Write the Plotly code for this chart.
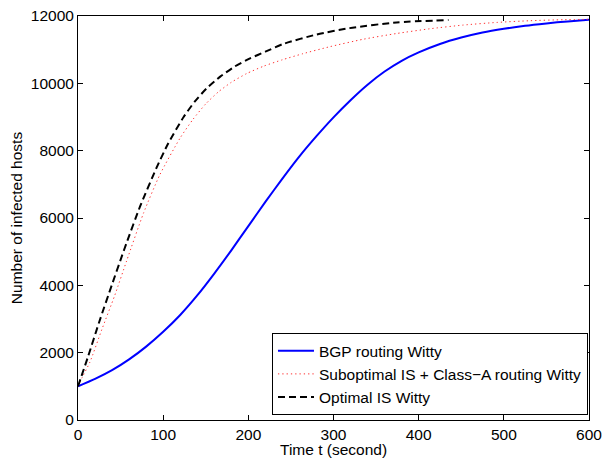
import plotly.graph_objects as go

# BGP routing Witty
bgp_t = [0, 20, 40, 60, 80, 100, 120, 140, 160, 180, 200, 220, 240, 260, 280, 300, 320, 340, 360, 380, 400, 425, 450, 475, 500, 525, 550, 575, 600]
bgp_v = [1000, 1220, 1480, 1800, 2180, 2620, 3120, 3700, 4350, 5040, 5760, 6480, 7170, 7830, 8430, 8990, 9500, 9960, 10350, 10670, 10920, 11170, 11360, 11510, 11620, 11710, 11780, 11840, 11885]

# Suboptimal IS + Class-A routing Witty
sub_t = [0, 5, 14, 28, 43, 57, 77, 96, 120, 135, 150, 165, 180, 198, 218, 240, 264, 296, 335, 374, 413, 452, 492, 531, 570, 600]
sub_v = [1000, 1270, 1720, 2690, 3690, 4720, 6150, 7280, 8380, 8930, 9390, 9750, 10030, 10290, 10510, 10700, 10880, 11090, 11310, 11480, 11620, 11730, 11810, 11860, 11890, 11900]

# Optimal IS Witty
opt_t = [0, 12, 25, 40, 51, 57, 73, 92, 106, 124, 137, 151, 167, 184, 202, 220, 241, 280, 319, 374, 435]
opt_v = [1000, 1900, 2920, 4030, 4830, 5260, 6350, 7480, 8220, 9000, 9455, 9850, 10200, 10500, 10740, 10940, 11170, 11450, 11640, 11810, 11880]

series_names = ["BGP routing Witty", "Suboptimal IS + Class\u2212A routing Witty", "Optimal IS Witty"]

x_ticks = [0, 100, 200, 300, 400, 500, 600]
y_ticks = [0, 2000, 4000, 6000, 8000, 10000, 12000]
x_title = "Time t (second)"
y_title = "Number of infected hosts"

FONT = "Liberation Sans, Arial, Helvetica, sans-serif"
FS = 15.5

fig = go.Figure()
fig.add_trace(go.Scatter(x=bgp_t, y=bgp_v, mode="lines", name=series_names[0],
                         line=dict(color="#0000ff", width=2, shape="spline", smoothing=0.6)))
fig.add_trace(go.Scatter(x=sub_t, y=sub_v, mode="lines", name=series_names[1],
                         line=dict(color="#ff3030", width=1, dash="1.3px,3px", shape="spline", smoothing=0.6)))
fig.add_trace(go.Scatter(x=opt_t, y=opt_v, mode="lines", name=series_names[2],
                         line=dict(color="#000000", width=2, dash="7px,4px", shape="spline", smoothing=0.6)))

axis_common = dict(showgrid=False, zeroline=False, showline=True, linecolor="black", linewidth=1,
                   ticks="inside", ticklen=5, tickwidth=1, tickcolor="black", mirror="ticks",
                   automargin=False,
                   tickfont=dict(family=FONT, size=FS, color="black"))

fig.update_layout(
    width=605, height=458,
    margin=dict(l=78, r=16, t=16, b=38),
    paper_bgcolor="white", plot_bgcolor="white",
    font=dict(family=FONT, size=FS, color="black"),
    xaxis=dict(range=[0, 600], tickvals=x_ticks, ticktext=[str(v) for v in x_ticks],
               **axis_common),
    yaxis=dict(range=[0, 12000], tickvals=y_ticks, ticktext=[str(v) for v in y_ticks],
               title=dict(text=y_title, font=dict(family=FONT, size=FS), standoff=4),
               **axis_common),
    legend=dict(x=0.998, y=0.012, xanchor="right", yanchor="bottom",
                bordercolor="black", borderwidth=1, bgcolor="white",
                font=dict(family=FONT, size=FS, color="black"),
                tracegroupgap=0, itemwidth=36),
    showlegend=True,
    annotations=[dict(text=x_title, xref="paper", yref="paper", x=0.5, y=-0.072,
                      xanchor="center", yanchor="middle", showarrow=False,
                      font=dict(family=FONT, size=FS, color="black"))],
)

fig.write_html("out.html")
